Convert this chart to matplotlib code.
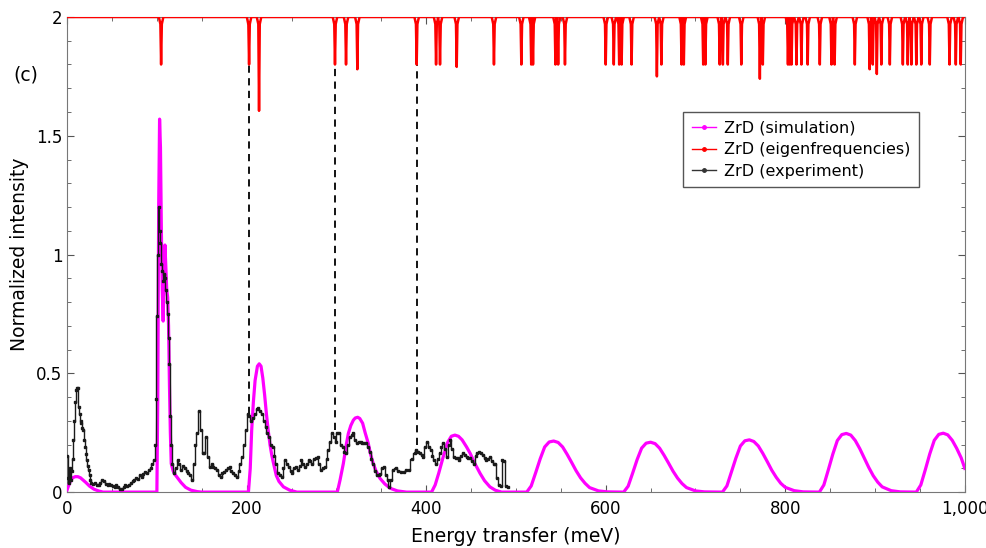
import numpy as np
import matplotlib
matplotlib.use("Agg")
import matplotlib.pyplot as plt
from matplotlib.ticker import MultipleLocator, FuncFormatter

# --- simulated spectrum (meV, normalized intensity) ---
sim_e = [0, 3, 6, 9, 12, 15, 18, 21, 25, 30, 35, 40, 60, 80, 99,
         100, 101, 102, 103, 104, 105, 106, 107, 108, 109, 110, 111, 112, 113, 114, 115, 116,
         118, 120, 123, 127, 132, 138, 145, 150, 180,
         202, 204, 205.6, 207.5, 209.4, 212, 214, 216, 218, 220, 222, 224, 226, 228, 230,
         233, 236, 241, 248, 256, 290,
         301, 304, 307.7, 311, 313.3, 316, 318.9, 321, 323.7, 326, 329.2, 332, 335.5, 338,
         341, 344, 348.5, 354, 360, 368, 378, 395,
         406, 410, 414, 419, 424, 428, 432, 436, 440, 445, 449, 454, 460, 465, 471, 477, 484, 500,
         512, 517, 522, 527, 532, 537, 542, 547, 552, 557, 562, 567, 572, 577, 582, 592, 602,
         620, 625, 630, 635, 640, 645, 650, 655, 660, 665, 670, 675, 680, 685, 690, 700, 710,
         730, 735, 740, 745, 750, 755, 760, 765, 770, 775, 780, 785, 790, 795, 800, 810, 820,
         838, 843, 848, 853, 858, 863, 868, 873, 878, 883, 888, 893, 898, 903, 908, 918, 928,
         946, 951, 956, 961, 966, 971, 976, 981, 986, 991, 996, 1000]
sim_i = [0.01, 0.04, 0.06, 0.065, 0.065, 0.06, 0.05, 0.04, 0.025, 0.012, 0.005, 0.0, 0.0, 0.0, 0.0,
         0.0, 0.4, 1.2, 1.57, 1.45, 1.1, 0.85, 0.72, 0.9, 1.04, 0.95, 0.85, 0.82, 0.7, 0.45, 0.25, 0.12,
         0.09, 0.075, 0.06, 0.04, 0.02, 0.008, 0.002, 0.0, 0.0,
         0.0, 0.1, 0.26, 0.38, 0.47, 0.53, 0.54, 0.53, 0.48, 0.41, 0.33, 0.26, 0.2, 0.155, 0.12,
         0.07, 0.045, 0.022, 0.008, 0.0, 0.0,
         0.0, 0.05, 0.12, 0.2, 0.247, 0.28, 0.303, 0.312, 0.315, 0.31, 0.29, 0.25, 0.205, 0.16,
         0.12, 0.09, 0.058, 0.034, 0.016, 0.005, 0.0, 0.0,
         0.0, 0.03, 0.08, 0.149, 0.21, 0.235, 0.24, 0.235, 0.22, 0.19, 0.163, 0.122, 0.079, 0.048, 0.022, 0.008, 0.0, 0.0,
         0.0, 0.026, 0.082, 0.14, 0.19, 0.211, 0.215, 0.209, 0.19, 0.159, 0.125, 0.09, 0.06, 0.037, 0.019, 0.005, 0.001,
         0.0, 0.025, 0.08, 0.137, 0.185, 0.206, 0.21, 0.204, 0.185, 0.155, 0.122, 0.088, 0.059, 0.036, 0.019, 0.005, 0.001,
         0.0, 0.026, 0.084, 0.143, 0.194, 0.216, 0.22, 0.213, 0.194, 0.163, 0.128, 0.092, 0.062, 0.037, 0.02, 0.006, 0.001,
         0.0, 0.03, 0.094, 0.16, 0.217, 0.242, 0.247, 0.24, 0.217, 0.183, 0.143, 0.104, 0.069, 0.042, 0.022, 0.006, 0.001,
         0.0, 0.03, 0.094, 0.161, 0.218, 0.243, 0.248, 0.241, 0.218, 0.184, 0.144, 0.1]

# --- measured spectrum (bin centres, meV) ---
exp_e = [0, 1, 2, 3, 4, 5, 6, 7, 8, 9, 10, 11, 12, 13, 14, 15, 16, 17, 18, 19, 20,
         21, 22, 23, 24, 25, 26, 27, 29, 31, 33, 35, 37, 39, 41, 43, 45, 47, 49, 51,
         53, 55, 57, 59, 61, 63, 65, 67, 69, 71, 73, 75, 77, 79, 81, 83, 85, 87, 89,
         91, 93, 95, 97, 98, 99, 100, 101, 102, 103, 104, 105, 106, 107, 108, 109, 110,
         111, 112, 113, 114, 115, 116, 117, 119, 121, 123, 125, 127, 129, 131, 133, 135,
         137, 139, 141, 143, 145, 147, 149, 151, 153, 155, 157, 159, 161, 163, 165, 167,
         169, 171, 173, 175, 177, 179, 181, 183, 185, 187, 189, 191, 193, 195, 197, 199,
         201, 203, 205, 207, 209, 211, 213, 215, 217, 219, 221, 223, 225, 227, 229, 231,
         233, 235, 237, 239, 241, 243, 245, 247, 249, 251, 253, 255, 257, 259, 261, 263,
         265, 267, 269, 271, 273, 275, 277, 279, 281, 283, 285, 287, 289, 291, 293, 295,
         297, 299, 301, 303, 305, 307, 309, 311, 313, 315, 317, 319, 321, 323, 325, 327,
         329, 331, 333, 335, 337, 339, 341, 343, 345, 347, 349, 351, 353, 355, 357, 359,
         361, 363, 366, 369, 372, 375, 378, 381, 384, 387, 389, 391, 393, 395, 397, 399,
         401, 403, 405, 407, 409, 411, 413, 415, 417, 419, 421, 423, 425, 427, 429, 431,
         433, 435, 437, 439, 441, 443, 445, 447, 449, 451, 453, 455, 457, 459, 461, 463,
         465, 467, 469, 471, 473, 475, 477, 479, 481, 483, 485, 487, 489, 491]
exp_i = [0.15, 0.06, 0.04, 0.1, 0.05, 0.09, 0.14, 0.22, 0.3, 0.38, 0.43, 0.44, 0.44, 0.36, 0.33, 0.3, 0.29, 0.27, 0.26, 0.22, 0.19,
         0.16, 0.135, 0.11, 0.093, 0.07, 0.05, 0.038, 0.035, 0.04, 0.03, 0.028, 0.04, 0.05, 0.045, 0.035, 0.03, 0.035, 0.028, 0.025,
         0.022, 0.03, 0.02, 0.015, 0.012, 0.02, 0.03, 0.025, 0.03, 0.04, 0.045, 0.05, 0.06, 0.055, 0.07, 0.064, 0.075, 0.085, 0.08,
         0.093, 0.1, 0.12, 0.135, 0.2, 0.39, 0.74, 1.0, 1.2, 1.1, 1.05, 0.96, 0.93, 0.89, 0.92, 0.9, 0.85,
         0.8, 0.75, 0.65, 0.54, 0.32, 0.2, 0.12, 0.08, 0.1, 0.135, 0.12, 0.093, 0.11, 0.1, 0.09, 0.08,
         0.07, 0.05, 0.12, 0.2, 0.25, 0.34, 0.26, 0.164, 0.165, 0.233, 0.149, 0.107, 0.12, 0.107, 0.1, 0.093,
         0.07, 0.064, 0.08, 0.085, 0.093, 0.1, 0.107, 0.09, 0.08, 0.07, 0.064, 0.09, 0.12, 0.149, 0.2, 0.26,
         0.33, 0.32, 0.3, 0.31, 0.33, 0.35, 0.353, 0.34, 0.33, 0.3, 0.275, 0.25, 0.233, 0.2, 0.19, 0.15,
         0.12, 0.08, 0.07, 0.064, 0.1, 0.135, 0.12, 0.107, 0.09, 0.08, 0.1, 0.107, 0.093, 0.11, 0.135, 0.12,
         0.107, 0.12, 0.135, 0.13, 0.12, 0.14, 0.143, 0.149, 0.12, 0.093, 0.1, 0.107, 0.14, 0.177, 0.21, 0.247,
         0.23, 0.21, 0.247, 0.247, 0.2, 0.19, 0.17, 0.163, 0.2, 0.233, 0.24, 0.247, 0.22, 0.205, 0.21, 0.21,
         0.205, 0.205, 0.205, 0.19, 0.17, 0.14, 0.12, 0.09, 0.072, 0.07, 0.075, 0.1, 0.107, 0.07, 0.05, 0.022,
         0.05, 0.093, 0.1, 0.09, 0.086, 0.086, 0.093, 0.093, 0.14, 0.163, 0.177, 0.17, 0.163, 0.155, 0.149, 0.19,
         0.212, 0.19, 0.177, 0.15, 0.135, 0.12, 0.14, 0.163, 0.19, 0.205, 0.18, 0.149, 0.2, 0.219, 0.18, 0.149,
         0.145, 0.145, 0.135, 0.15, 0.163, 0.155, 0.149, 0.145, 0.145, 0.13, 0.12, 0.15, 0.163, 0.17, 0.165, 0.155,
         0.145, 0.135, 0.14, 0.149, 0.13, 0.12, 0.12, 0.06, 0.03, 0.025, 0.135, 0.13, 0.025, 0.02]

# --- calculated eigenfrequencies (meV) and the depth each is drawn down to ---
eig_e = [104.7, 202.7, 213.8, 298.4, 310.7, 323.3, 389.4, 411, 415.4, 434, 475.5, 506, 517, 519,
         544, 547, 554.6, 600, 609, 615, 617.7, 628.8, 657, 662, 684.5, 687, 708.6, 711, 727,
         730.5, 736, 751, 771.7, 775, 803, 805, 807, 812.5, 818, 825, 838.5, 851.5, 855, 877.5,
         894, 897.5, 902, 907, 916.5, 931, 936.5, 940.5, 946, 951.5, 961, 983, 990, 995.5]
eig_lo = [1.8, 1.8, 1.605, 1.8, 1.8, 1.78, 1.8, 1.8, 1.8, 1.79, 1.8, 1.8, 1.8, 1.8,
          1.8, 1.8, 1.8, 1.8, 1.8, 1.8, 1.8, 1.8, 1.75, 1.8, 1.8, 1.8, 1.8, 1.8, 1.8,
          1.8, 1.8, 1.8, 1.74, 1.8, 1.8, 1.8, 1.8, 1.8, 1.8, 1.8, 1.8, 1.8, 1.8, 1.8,
          1.78, 1.8, 1.76, 1.8, 1.8, 1.8, 1.8, 1.8, 1.8, 1.8, 1.8, 1.8, 1.8, 1.8]

# modes marked down to the measured spectrum
mark_e = [202.7, 298.4, 389.4]
mark_lo = [0.33, 0.26, 0.2]

# red trace: flat at 2 with a narrow dip at every eigenfrequency
red_x, red_y = [0.0], [2.0]
for e, lo in zip(eig_e, eig_lo):
    red_x += [e - 2.5, e - 0.8, e, e + 0.8, e + 2.5]
    red_y += [2.0, 1.97, lo, 1.97, 2.0]
red_x.append(1000.0)
red_y.append(2.0)

fig = plt.figure(figsize=(9.87, 5.48), dpi=100)
ax = fig.add_axes([0.068, 0.102, 0.9095, 0.867])

ax.vlines(mark_e, mark_lo, 1.8, colors="black", linestyles=(0, (4, 3)), lw=1.3, zorder=1)
ax.plot(sim_e, sim_i, color="#ff00ff", lw=2.3, zorder=3, label="ZrD (simulation)")
ax.plot(red_x, red_y, color="#ff0000", lw=1.8, zorder=4, label="ZrD (eigenfrequencies)")
ax.plot(exp_e, exp_i, color="#1a1a1a", lw=1.0, drawstyle="steps-mid", marker="s", ms=2,
        zorder=5, label="ZrD (experiment)")

ax.set_xlim(0, 1000)
ax.set_ylim(0, 2)
ax.xaxis.set_major_locator(MultipleLocator(200))
ax.xaxis.set_minor_locator(MultipleLocator(50))
ax.yaxis.set_major_locator(MultipleLocator(0.5))
ax.yaxis.set_minor_locator(MultipleLocator(0.1))
ax.xaxis.set_major_formatter(FuncFormatter(lambda v, p: f"{int(v):,}"))
ax.yaxis.set_major_formatter(FuncFormatter(lambda v, p: f"{v:g}"))
ax.tick_params(which="both", direction="in", top=True, right=True, color="#555555",
               labelsize=12)
ax.tick_params(axis="x", which="major", pad=6)
ax.tick_params(which="major", length=5)
ax.tick_params(which="minor", length=3)
for s in ax.spines.values():
    s.set_color("#777777")

ax.set_xlabel("Energy transfer (meV)", fontsize=13.5, labelpad=6)
ax.set_ylabel("Normalized intensity", fontsize=13.5, labelpad=5)
fig.text(0.014, 0.863, "(c)", fontsize=13.5, va="center")

# legend entries: short line with a dot
handles = [plt.Line2D([], [], color=c, lw=1, marker="o", ms=2.5)
           for c in ("#ff00ff", "#ff0000", "#333333")]
leg = ax.legend(handles, ["ZrD (simulation)", "ZrD (eigenfrequencies)", "ZrD (experiment)"],
                loc="upper left", bbox_to_anchor=(0.686, 0.80), borderaxespad=0,
                fontsize=11.5, handlelength=1.5, handletextpad=0.5, labelspacing=0.4,
                fancybox=False, framealpha=1, borderpad=0.55)
leg.get_frame().set_edgecolor("#555555")
leg.get_frame().set_linewidth(1.0)

fig.savefig("out.png", dpi=100)
